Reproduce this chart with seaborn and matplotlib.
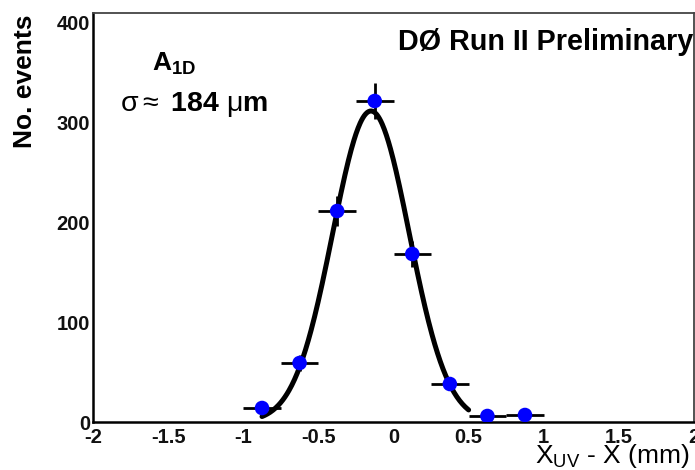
import numpy as np
import pandas as pd
import matplotlib
matplotlib.use("Agg")
import matplotlib.pyplot as plt
import seaborn as sns

# Data
bin_centers = [-0.875, -0.625, -0.375, -0.125, 0.125, 0.375, 0.625, 0.875]
counts = [14, 59, 211, 321, 168, 38, 6, 7]
bin_half_width = 0.125

# Gaussian fit parameters
fit_amp = 311.0
fit_mean = -0.15
fit_sigma = 0.255
fit_range = (-0.875, 0.5)

x_ticks = [-2, -1.5, -1, -0.5, 0, 0.5, 1, 1.5, 2]
x_ticklabels = ["-2", "-1.5", "-1", "-0.5", "0", "0.5", "1", "1.5", "2"]
y_ticks = [0, 100, 200, 300, 400]

sns.set_theme(style="white")
plt.rcParams["font.family"] = ["Liberation Sans", "DejaVu Sans"]
plt.rcParams["text.color"] = "black"
plt.rcParams["mathtext.fontset"] = "custom"
plt.rcParams["mathtext.rm"] = "Liberation Sans"
plt.rcParams["mathtext.it"] = "Liberation Sans"
plt.rcParams["mathtext.bf"] = "Liberation Sans:bold"

fig = plt.figure(figsize=(6.95, 4.70), dpi=100)
ax = fig.add_axes([93/695, 1-422/470, (694-93)/695, (422-13)/470])

df = pd.DataFrame({"x": bin_centers, "n": counts})
err = np.sqrt(df["n"].values)

ax.errorbar(df["x"], df["n"], xerr=bin_half_width, yerr=err, fmt="none",
            ecolor="black", elinewidth=2.0, capsize=0, zorder=2)

xf = np.linspace(fit_range[0], fit_range[1], 300)
fit_df = pd.DataFrame({"x": xf,
                       "y": fit_amp*np.exp(-0.5*((xf-fit_mean)/fit_sigma)**2)})
sns.lineplot(data=fit_df, x="x", y="y", ax=ax, color="black", linewidth=3.6,
             zorder=3, legend=False)

sns.scatterplot(data=df, x="x", y="n", ax=ax, color="#0000ff", s=110,
                edgecolor="none", zorder=4, legend=False)

ax.set_xlim(-2, 2)
ax.set_ylim(0, 409)
ax.set_xticks(x_ticks)
ax.set_xticklabels(x_ticklabels)
ax.set_yticks(y_ticks)
ax.tick_params(axis="x", direction="in", length=9, width=1.5, pad=4,
               labelsize=14.5, colors="black")
ax.tick_params(axis="y", direction="in", length=14, width=1.5, pad=2,
               labelsize=14.5, colors="black")
for lab in ax.get_xticklabels() + ax.get_yticklabels():
    lab.set_fontweight("bold")
    lab.set_color("#111111")

for s in ["left", "bottom"]:
    ax.spines[s].set_linewidth(1.8)
    ax.spines[s].set_color("black")
for s in ["top", "right"]:
    ax.spines[s].set_linewidth(1.3)
    ax.spines[s].set_color("#444444")

ax.set_xlabel("")
ax.set_ylabel("")

fig.text(690/695, 1-463/470, r"X$_{\mathregular{UV}}$ - X (mm)", ha="right",
         va="baseline", fontsize=19, color="black")
fig.text(25/695, 1-15/470, "No. events", rotation=90, ha="center", va="top",
         fontsize=19, fontweight="bold", color="black")

fig.text(152/695, 1-71/470, r"A$_{\mathbf{1D}}$", ha="left", va="baseline",
         fontsize=19, fontweight="bold", color="black")
fig.text(120/695, 1-111/470, r"$\mathrm{\sigma \approx}$ 184 $\mathrm{\mu}$m",
         ha="left", va="baseline", fontsize=20.5, fontweight="bold",
         color="black")
fig.text(693/695, 1-50/470, "DØ Run II Preliminary", ha="right",
         va="baseline", fontsize=20.7, fontweight="bold", color="black")

fig.savefig("out.png", dpi=100)
